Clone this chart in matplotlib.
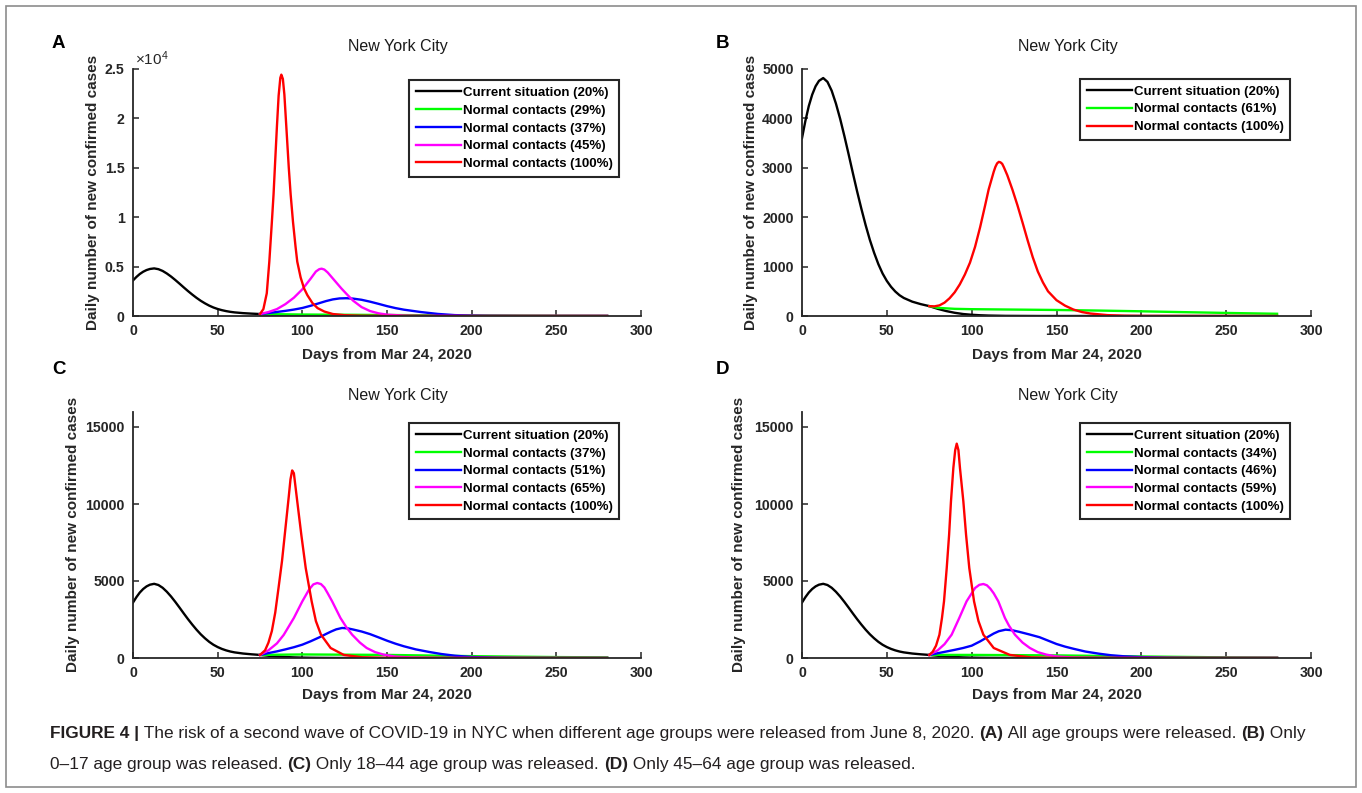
import matplotlib
matplotlib.use("Agg")
import matplotlib.pyplot as plt
from matplotlib.patches import Rectangle
from matplotlib.ticker import FuncFormatter

plt.rcParams["font.family"] = ["Liberation Sans", "DejaVu Sans"]
plt.rcParams["mathtext.fontset"] = "custom"
plt.rcParams["mathtext.rm"] = "Liberation Sans"

# ---- data (days from Mar 24, 2020 / daily new cases) ----
black_days = [0, 2, 4, 6, 8, 10, 12.5, 15, 17.5, 20, 22.5, 25, 27.5, 30, 32.5, 35, 37.5, 40,
              42.5, 45, 47.5, 50, 52.5, 55, 57.5, 60, 65, 70, 75, 80, 85, 90, 95, 100, 105,
              110, 120, 140, 280]
black_cases = [3600, 3950, 4250, 4480, 4650, 4760, 4817, 4740, 4560, 4300, 3990, 3640, 3270,
               2890, 2520, 2170, 1840, 1540, 1280, 1050, 860, 710, 590, 495, 420, 365, 290, 240,
               200, 145, 100, 65, 40, 25, 15, 9, 3, 0, 0]

# panel A: all age groups released
a_green_days = [75, 100, 150, 200, 250, 280]
a_green_cases = [200, 150, 100, 50, 20, 10]
a_blue_days = [75, 80, 85, 90, 95, 100, 105, 110, 114, 118, 122, 126, 130, 135, 140, 145, 150,
               155, 160, 170, 180, 190, 200, 210, 230, 280]
a_blue_cases = [200, 300, 410, 520, 650, 810, 1040, 1300, 1510, 1680, 1780, 1800, 1760, 1640,
                1450, 1230, 1000, 800, 640, 400, 210, 90, 40, 15, 0, 0]
a_magenta_days = [75, 80, 85, 90, 95, 100, 105, 108, 110, 111.4, 113, 115, 117, 120, 123, 126,
                  130, 135, 140, 145, 150, 160, 170, 200, 280]
a_magenta_cases = [200, 400, 700, 1200, 1850, 2700, 3800, 4500, 4740, 4790, 4700, 4400, 4000,
                   3400, 2800, 2250, 1550, 900, 500, 270, 140, 40, 10, 0, 0]
a_red_days = [75, 77, 79, 80.5, 82, 83, 84, 85, 86, 87, 87.6, 88.5, 89.4, 90.6, 92, 93.1, 94.5,
              96, 97, 99, 101, 103, 106, 109, 113, 118, 125, 135, 150, 280]
a_red_cases = [200, 700, 2300, 5500, 9500, 12300, 15800, 19200, 22300, 24100, 24430, 24000,
               22400, 19000, 15000, 12300, 9500, 7000, 5500, 3900, 2800, 2100, 1300, 800, 450,
               200, 80, 25, 5, 0]

# panel B: only 0-17 released
b_green_days = [75, 80, 90, 100, 125, 150, 175, 200, 225, 250, 280]
b_green_cases = [200, 165, 145, 138, 130, 122, 110, 95, 78, 62, 45]
b_red_days = [75, 78, 81, 84, 87, 90, 93, 96, 99, 102, 105, 108, 110, 112, 113, 114, 115, 116,
              117, 118, 119, 120, 121, 124, 127, 130, 133, 136, 139, 142, 145, 150, 155, 160,
              165, 170, 180, 190, 200, 280]
b_red_cases = [200, 195, 215, 270, 360, 480, 640, 840, 1080, 1400, 1800, 2250, 2560, 2800, 2920,
               3020, 3090, 3120, 3110, 3080, 3010, 2930, 2850, 2560, 2240, 1890, 1530, 1190, 900,
               680, 500, 320, 210, 130, 80, 50, 18, 6, 2, 0]

# panel C: only 18-44 released
c_green_days = [75, 100, 150, 200, 250, 280]
c_green_cases = [200, 230, 200, 120, 60, 40]
c_blue_days = [75, 80, 85, 90, 95, 100, 105, 110, 114, 117, 120, 123.5, 127, 130, 135, 140, 145,
               150, 155, 160, 167, 175, 182, 190, 200, 215, 230, 280]
c_blue_cases = [200, 320, 430, 560, 700, 866, 1090, 1340, 1560, 1720, 1860, 1950, 1920, 1850,
                1720, 1550, 1340, 1125, 930, 760, 560, 390, 260, 150, 65, 20, 5, 0]
c_magenta_days = [75, 80, 85, 89, 92, 95, 100, 104, 106.5, 108.8, 111, 113, 115, 117.6, 120,
                  122.5, 126, 129.4, 134, 138, 143, 148, 155, 165, 180, 280]
c_magenta_cases = [200, 500, 950, 1500, 2050, 2600, 3680, 4450, 4780, 4870, 4800, 4580, 4200,
                   3680, 3150, 2600, 2000, 1515, 1000, 650, 380, 220, 90, 30, 5, 0]
c_red_days = [75, 78, 80, 82, 84, 86, 88, 90, 92, 93, 94, 95, 97, 99.4, 102, 105.5, 108, 111,
              116.7, 124.5, 135, 150, 280]
c_red_cases = [200, 500, 1000, 1750, 2950, 4600, 6300, 8400, 10500, 11600, 12180, 12000, 10170,
               8000, 5840, 3680, 2400, 1515, 650, 200, 50, 10, 0]

# panel D: only 45-64 released
d_green_days = [75, 100, 150, 200, 250, 280]
d_green_cases = [200, 200, 170, 100, 40, 20]
d_blue_days = [75, 80, 85, 90, 95, 100, 105, 110, 113, 116, 120, 124, 128, 134, 140, 145, 150,
               155, 160, 167, 175, 182, 190, 200, 215, 230, 280]
d_blue_cases = [200, 310, 420, 530, 650, 800, 1080, 1400, 1590, 1740, 1840, 1800, 1700, 1530,
                1350, 1130, 910, 740, 600, 420, 280, 180, 110, 60, 20, 5, 0]
d_magenta_days = [75, 80, 84, 88.2, 92.7, 97, 102, 104.5, 106.9, 109, 111, 113, 115.7, 119.6,
                  122, 125.5, 130, 134.3, 139, 144, 150, 160, 180, 280]
d_magenta_cases = [200, 500, 900, 1515, 2600, 3680, 4545, 4750, 4805, 4720, 4500, 4200, 3680,
                   2600, 2100, 1515, 1000, 650, 380, 220, 100, 30, 5, 0]
d_red_days = [75, 77, 79, 81, 82.5, 83.7, 85.3, 86.7, 87.8, 89.2, 90.3, 91.2, 92.2, 93.1, 95.1,
              96.7, 98.6, 101.4, 104, 106.9, 113, 122.5, 135, 150, 280]
d_red_cases = [200, 400, 800, 1515, 2600, 3680, 5840, 8000, 10170, 12340, 13500, 13918, 13500,
               12340, 10170, 8000, 5840, 3680, 2400, 1515, 650, 200, 40, 10, 0]

a_labels = ["Current situation (20%)", "Normal contacts (29%)", "Normal contacts (37%)",
            "Normal contacts (45%)", "Normal contacts (100%)"]
b_labels = ["Current situation (20%)", "Normal contacts (61%)", "Normal contacts (100%)"]
c_labels = ["Current situation (20%)", "Normal contacts (37%)", "Normal contacts (51%)",
            "Normal contacts (65%)", "Normal contacts (100%)"]
d_labels = ["Current situation (20%)", "Normal contacts (34%)", "Normal contacts (46%)",
            "Normal contacts (59%)", "Normal contacts (100%)"]

x_ticks = [0, 50, 100, 150, 200, 250, 300]
a_yticks = [0, 5000, 10000, 15000, 20000, 25000]
b_yticks = [0, 1000, 2000, 3000, 4000, 5000]
cd_yticks = [0, 5000, 10000, 15000]

W, H = 1362, 793
fig = plt.figure(figsize=(W / 100, H / 100), dpi=100)
fig.patch.set_facecolor("white")

# outer frame
fig.patches.append(Rectangle((6 / W, 6 / H), 1350 / W, 781 / H, transform=fig.transFigure,
                             fill=False, edgecolor="#8c8c8c", linewidth=1.2))


def draw_panel(rect, series, labels, ylim, yticks, ylabel_x, title_pad, leg_anchor,
               xlabel_y, sci=False):
    ax = fig.add_axes(rect)
    colors = ["black", "#00ff00", "#0000ff", "#ff00ff", "#ff0000"]
    if len(series) == 3:
        colors = ["black", "#00ff00", "#ff0000"]
    for (days, cases), c, lab in zip(series, colors, labels):
        ax.plot(days, cases, color=c, lw=1.7, label=lab, solid_joinstyle="round")

    ax.set_xlim(0, 300)
    ax.set_ylim(*ylim)
    ax.set_xticks(x_ticks)
    ax.set_yticks(yticks)
    if sci:
        ax.yaxis.set_major_formatter(FuncFormatter(lambda v, p: f"{v / 1e4:g}"))
        ax.text(0.004, 1.004, r"$\times\mathregular{10^{4}}$", transform=ax.transAxes,
                ha="left", va="bottom", fontsize=11, color="#262626")
    for s in ["top", "right"]:
        ax.spines[s].set_visible(False)
    for s in ["left", "bottom"]:
        ax.spines[s].set_linewidth(1.3)
        ax.spines[s].set_color("#262626")
    ax.tick_params(direction="in", length=4, width=1.1, color="#262626",
                   labelsize=10.2, pad=6, labelcolor="#262626")
    for t in ax.get_xticklabels() + ax.get_yticklabels():
        t.set_fontweight("bold")

    ax.set_title("New York City", fontsize=11.5, pad=title_pad, x=0.522, color="#1a1a1a")
    ax.set_xlabel("Days from Mar 24, 2020", fontsize=11, fontweight="bold", color="#262626")
    ax.set_ylabel("Daily number of new confirmed cases", fontsize=11, fontweight="bold",
                  color="#262626")
    ax.xaxis.set_label_coords(0.5, xlabel_y)
    ax.yaxis.set_label_coords(ylabel_x, 0.5)

    leg = ax.legend(loc="upper right", bbox_to_anchor=leg_anchor,
                    prop={"weight": "bold", "size": 9.5}, handlelength=3.4, handletextpad=0.15,
                    labelspacing=0.42, borderpad=0.5, borderaxespad=0, fancybox=False,
                    framealpha=1, edgecolor="#262626")
    leg.get_frame().set_linewidth(1.5)
    return ax


top_b = (H - 316) / H
bot_b = (H - 658) / H
left_a = 133 / W
left_b = 802 / W

draw_panel([left_a, top_b, 508 / W, 247 / H],
           [(black_days, black_cases), (a_green_days, a_green_cases), (a_blue_days, a_blue_cases),
            (a_magenta_days, a_magenta_cases), (a_red_days, a_red_cases)],
           a_labels, (0, 25000), a_yticks, -0.065, 13, (0.957, 0.955), -0.13, sci=True)
draw_panel([left_b, top_b, 509 / W, 247 / H],
           [(black_days, black_cases), (b_green_days, b_green_cases), (b_red_days, b_red_cases)],
           b_labels, (0, 5000), b_yticks, -0.086, 13, (0.959, 0.96), -0.13)
draw_panel([left_a, bot_b, 508 / W, 246.4 / H],
           [(black_days, black_cases), (c_green_days, c_green_cases), (c_blue_days, c_blue_cases),
            (c_magenta_days, c_magenta_cases), (c_red_days, c_red_cases)],
           c_labels, (0, 16000), cd_yticks, -0.104, 8, (0.957, 0.954), -0.123)
draw_panel([left_b, bot_b, 509 / W, 246.4 / H],
           [(black_days, black_cases), (d_green_days, d_green_cases), (d_blue_days, d_blue_cases),
            (d_magenta_days, d_magenta_cases), (d_red_days, d_red_cases)],
           d_labels, (0, 16000), cd_yticks, -0.110, 8, (0.959, 0.954), -0.123)

# panel letters
for letter, px, py in [("A", 52, 43), ("B", 716, 43), ("C", 52, 369), ("D", 716, 369)]:
    fig.text(px / W, 1 - py / H, letter, fontsize=13.5, fontweight="bold", ha="left", va="center")

# caption with mixed bold / normal runs
line1 = [("FIGURE 4 |", "bold"),
         (" The risk of a second wave of COVID-19 in NYC when different age groups were "
          "released from June 8, 2020. ", "normal"),
         ("(A)", "bold"), (" All age groups were released. ", "normal"),
         ("(B)", "bold"), (" Only", "normal")]
line2 = [("0–17 age group was released. ", "normal"), ("(C)", "bold"),
         (" Only 18–44 age group was released. ", "normal"), ("(D)", "bold"),
         (" Only 45–64 age group was released.", "normal")]

renderer = fig.canvas.get_renderer()


def place_line(parts, y, size):
    x = 50
    texts = []
    for s, w in parts:
        t = fig.text(x / W, y, s.replace(" ", "\u00a0"), fontsize=size, fontweight=w,
                     color="#231f20", ha="left", va="center_baseline")
        x += t.get_window_extent(renderer).width
        texts.append(t)
    return texts, x


cap_size = 12
texts, xend = place_line(line1, 1 - 732 / H, cap_size)
for t in texts:
    t.remove()
cap_size = cap_size * (1310 - 50) / (xend - 50)
place_line(line1, 1 - 732 / H, cap_size)
place_line(line2, 1 - 763 / H, cap_size)

fig.savefig("out.png", dpi=100, facecolor="white")
